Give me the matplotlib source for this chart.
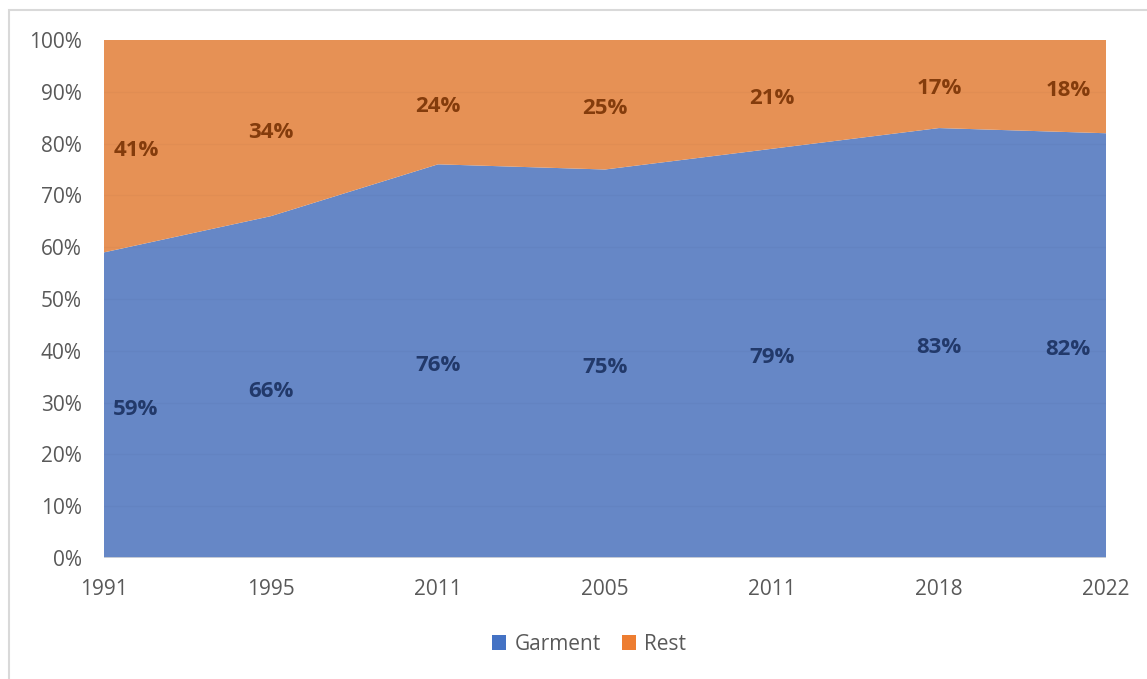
import numpy as np
import matplotlib.pyplot as plt
import matplotlib.transforms as mtransforms
from matplotlib.patches import Rectangle

years = ['1991', '1995', '2011', '2005', '2011', '2018', '2022']
garment = [59, 66, 76, 75, 79, 83, 82]
rest = [41, 34, 24, 25, 21, 17, 18]

blue = '#6687c6'
orange = '#e69155'
blue_dark = '#22396a'
orange_dark = '#843c0c'
tick_gray = '#595959'

plt.rcParams['font.family'] = ['Open Sans', 'DejaVu Sans']

fig = plt.figure(figsize=(11.47, 6.79), dpi=100)
ax = fig.add_axes([104 / 1147, 1 - 558 / 679, (1106 - 104) / 1147, (558 - 40) / 679])

x = np.arange(len(years))
g = np.array(garment)
r = np.array(rest)

ax.stackplot(x, g, r, colors=[blue, orange], labels=['Garment', 'Rest'], linewidth=0)

# faint gridlines visible through the areas
for yv in range(10, 100, 10):
    ax.axhline(yv, color='#000000', alpha=0.025, linewidth=1, zorder=3)
ax.axhline(0, color='#d9d9d9', linewidth=1.2, zorder=4)

# data labels, nudged down a few pixels like Excel places them
lab_tr = ax.transData + mtransforms.ScaledTranslation(0, -4 / 100, fig.dpi_scale_trans)
for i in range(len(x)):
    if i == 0:
        xpos, ha = x[i] + 0.055, 'left'
    elif i == len(x) - 1:
        xpos, ha = x[i] - 0.09, 'right'
    else:
        xpos, ha = x[i], 'center'
    ax.text(xpos, g[i] / 2, f'{g[i]}%', ha=ha, va='center', fontsize=16,
            fontweight='bold', color=blue_dark, transform=lab_tr)
    ax.text(xpos, g[i] + r[i] / 2, f'{r[i]}%', ha=ha, va='center', fontsize=16,
            fontweight='bold', color=orange_dark, transform=lab_tr)

ax.set_xlim(0, len(x) - 1)
ax.set_ylim(0, 100)
ax.set_xticks(x)
ax.set_xticklabels(years)
ax.set_yticks(range(0, 101, 10))
ax.set_yticklabels([f'{v}%' for v in range(0, 101, 10)])
ax.tick_params(length=0, labelsize=15, colors=tick_gray)
ax.tick_params(axis='x', pad=15)
ax.tick_params(axis='y', pad=16)
for s in ax.spines.values():
    s.set_visible(False)

leg = fig.legend(loc='center', bbox_to_anchor=(589 / 1147, 1 - 644 / 679), ncol=2,
                 frameon=False, fontsize=15, handlelength=0.7, handleheight=0.7,
                 columnspacing=1.0, handletextpad=0.4)
leg.legend_handles[0].set_color('#4472c4')
leg.legend_handles[1].set_color('#ed7d31')
for t in leg.get_texts():
    t.set_color(tick_gray)

fig.patches.append(Rectangle((9 / 1147, -0.01), 1.0, 1 - 10 / 679 + 0.01,
                             transform=fig.transFigure, fill=False,
                             edgecolor='#d9d9d9', linewidth=1.5))

fig.savefig('out.png', dpi=100)
